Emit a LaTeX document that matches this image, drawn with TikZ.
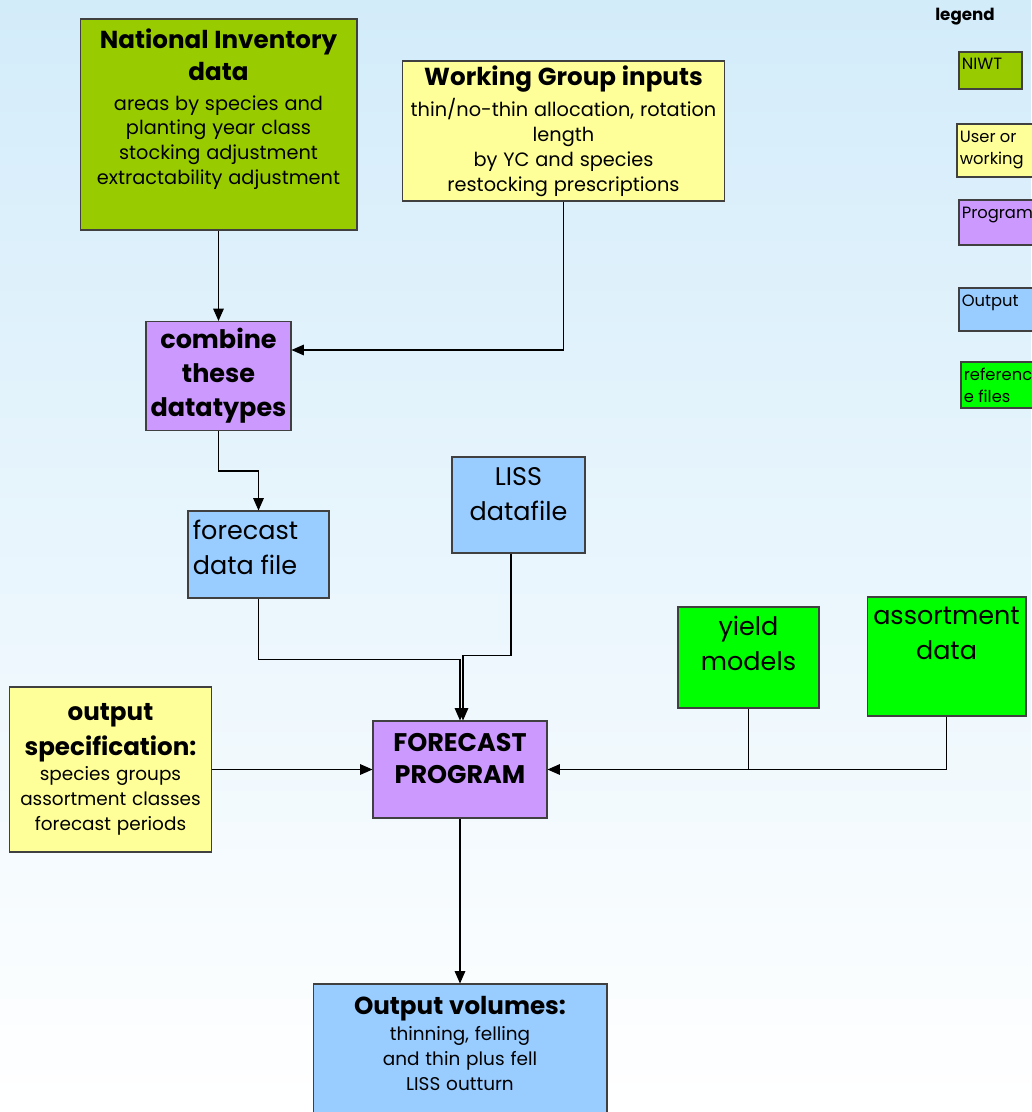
\documentclass[tikz,border=0pt]{standalone}
\usepackage{fontspec}
\setmainfont{Poppins}
\usetikzlibrary{arrows.meta, positioning, calc}

\definecolor{niwtgreen}{HTML}{99CC00}
\definecolor{useryellow}{HTML}{FFFF99}
\definecolor{progpurple}{HTML}{CC99FF}
\definecolor{outblue}{HTML}{99CCFF}
\definecolor{refgreen}{HTML}{00FF00}
\definecolor{skytop}{HTML}{D3ECFA}
\definecolor{skymid}{HTML}{EEF7FD}

\newcommand{\headsz}{\fontsize{14pt}{18pt}\selectfont\bfseries}
\newcommand{\bodysz}{\fontsize{11pt}{14.2pt}\selectfont\mdseries}
\newcommand{\smallsz}{\fontsize{10.5pt}{14.2pt}\selectfont\mdseries}
\newcommand{\bigsz}{\fontsize{14.5pt}{19.8pt}\selectfont}
\newcommand{\legsz}{\fontsize{9.3pt}{12.5pt}\selectfont}

\begin{document}
\begin{tikzpicture}[
    x = 0.02cm, y = -0.02cm,
    >={Triangle[length=7pt, width=6pt]},
    box/.style = {draw=black!75, line width=0.6pt, inner sep=2pt},
    niwt/.style = {box, fill=niwtgreen},
    user/.style = {box, fill=useryellow},
    prog/.style = {box, fill=progpurple},
    outp/.style = {box, fill=outblue},
    reffile/.style = {box, fill=refgreen},
    txt/.style = {inner sep=0pt, align=center},
    link/.style = {->, line width=0.6pt}]

% background
\useasboundingbox (0,0) rectangle (1031,1112);
\shade[top color=skytop, middle color=skymid, bottom color=white] (0,0) rectangle (1031,1112);

% input boxes
\node[niwt, minimum width=5.54cm, minimum height=4.22cm] (ni) at (218.5,124.5) {};
\node[txt, text width=5.4cm, below=0.2cm of ni.north] (ni-txt)
    {\headsz National Inventory\\ data\par\vspace{2.8pt}
     \bodysz areas by species and\\ planting year class\\ stocking adjustment\\ extractability adjustment\par};

\node[user, minimum width=6.42cm, minimum height=2.8cm, text width=6.3cm, align=center] (wg) at (563.5,131)
    {\headsz Working Group inputs\par\vspace{2.3pt}
     \bodysz thin/no-thin allocation, rotation\\ length\\ by YC and species\\ restocking prescriptions\par};

\node[prog, minimum width=2.9cm, minimum height=2.18cm, align=center,
      font=\fontsize{14.5pt}{19.3pt}\selectfont\bfseries] (comb) at (218.5,376) {combine\\ these\\ datatypes};

% data files
\node[outp, minimum width=2.82cm, minimum height=1.74cm] (fdf) at (258.5,554.5) {};
\node[txt, align=left, font=\bigsz, below right=0.18cm and 0.1cm of fdf.north west] (fdf-txt) {forecast\\ data file};

\node[outp, minimum width=2.66cm, minimum height=1.92cm] (liss) at (518.5,505) {};
\node[txt, font=\bigsz, below=0.22cm of liss.north] (liss-txt) {LISS\\ datafile};

\node[reffile, minimum width=2.82cm, minimum height=2.02cm] (yield) at (748.5,657.5) {};
\node[txt, font=\bigsz, below=0.18cm of yield.north] (yield-txt) {yield\\ models};

\node[reffile, minimum width=3.18cm, minimum height=2.38cm] (assort) at (946.5,656.5) {};
\node[txt, font=\bigsz, below=0.2cm of assort.north] (assort-txt) {assortment\\ data};

\node[user, minimum width=3.98cm, minimum height=3.3cm, text width=3.9cm, align=center] (spec) at (110.5,769.5)
    {\fontsize{14pt}{19.8pt}\selectfont\bfseries output\\ specification:\par
     \smallsz species groups\\ assortment classes\\ forecast periods\par};

% program and output
\node[prog, minimum width=3.48cm, minimum height=1.94cm] (fp) at (460,769.5) {};
\node[txt, font=\fontsize{14.5pt}{18.7pt}\selectfont\bfseries] (fp-txt) at ($(fp)+(0,-11)$) {FORECAST\\ PROGRAM};

\node[outp, minimum width=5.88cm, minimum height=2.82cm] (outv) at (460,1054.5) {};
\node[txt, text width=5.7cm, below=0.24cm of outv.north] (outv-txt)
    {\headsz Output volumes:\par\vspace{1pt}
     \smallsz thinning, felling\\ and thin plus fell\\ LISS outturn\par};

% connectors
\draw[link] (ni) -- (comb);
\draw[link] (wg.south) |- ($(comb.east)+(0,-26)$);
\draw[link] (comb.south) -- ++(0,40) -| (fdf.north);
\draw[link] (fdf.south) -- ++(0,61) -| (fp.north);
\draw[link] ([xshift=-0.15cm]liss.south) -- ++(0,102) -| ([xshift=0.06cm]fp.north);
\draw[link] (spec) -- (fp);
\draw[line width=0.6pt] (assort.south) |- (yield.south |- fp.east);
\draw[link] (yield.south) |- (fp.east);
\draw[link] (fp) -- (outv);

% legend
\node[txt, font=\fontsize{9.5pt}{11pt}\selectfont\bfseries] (lg-title) at (965,17) {legend};

\node[niwt, minimum width=1.26cm, minimum height=0.74cm] (lg-niwt) at (990.5,70.5) {};
\node[txt, align=left, font=\legsz, below right=0.12cm and 0.06cm of lg-niwt.north west] (lg-niwt-txt) {NIWT};

\node[user, minimum width=1.76cm, minimum height=1.06cm] (lg-user) at (1001,150.5) {};
\node[txt, align=left, font=\legsz, below right=0.14cm and 0.06cm of lg-user.north west] (lg-user-txt) {User or\\ working};

\node[prog, minimum width=1.72cm, minimum height=0.9cm] (lg-prog) at (1002,222.5) {};
\node[txt, align=left, font=\legsz, below right=0.14cm and 0.06cm of lg-prog.north west] (lg-prog-txt) {Program};

\node[outp, minimum width=1.72cm, minimum height=0.86cm] (lg-outp) at (1002,309.5) {};
\node[txt, align=left, font=\legsz, below right=0.14cm and 0.06cm of lg-outp.north west] (lg-outp-txt) {Output};

\node[reffile, minimum width=1.68cm, minimum height=0.92cm] (lg-ref) at (1003,385) {};
\node[txt, align=left, font=\legsz, below right=0.12cm and 0.06cm of lg-ref.north west] (lg-ref-txt) {referenc\\ e files};

\end{tikzpicture}
\end{document}
